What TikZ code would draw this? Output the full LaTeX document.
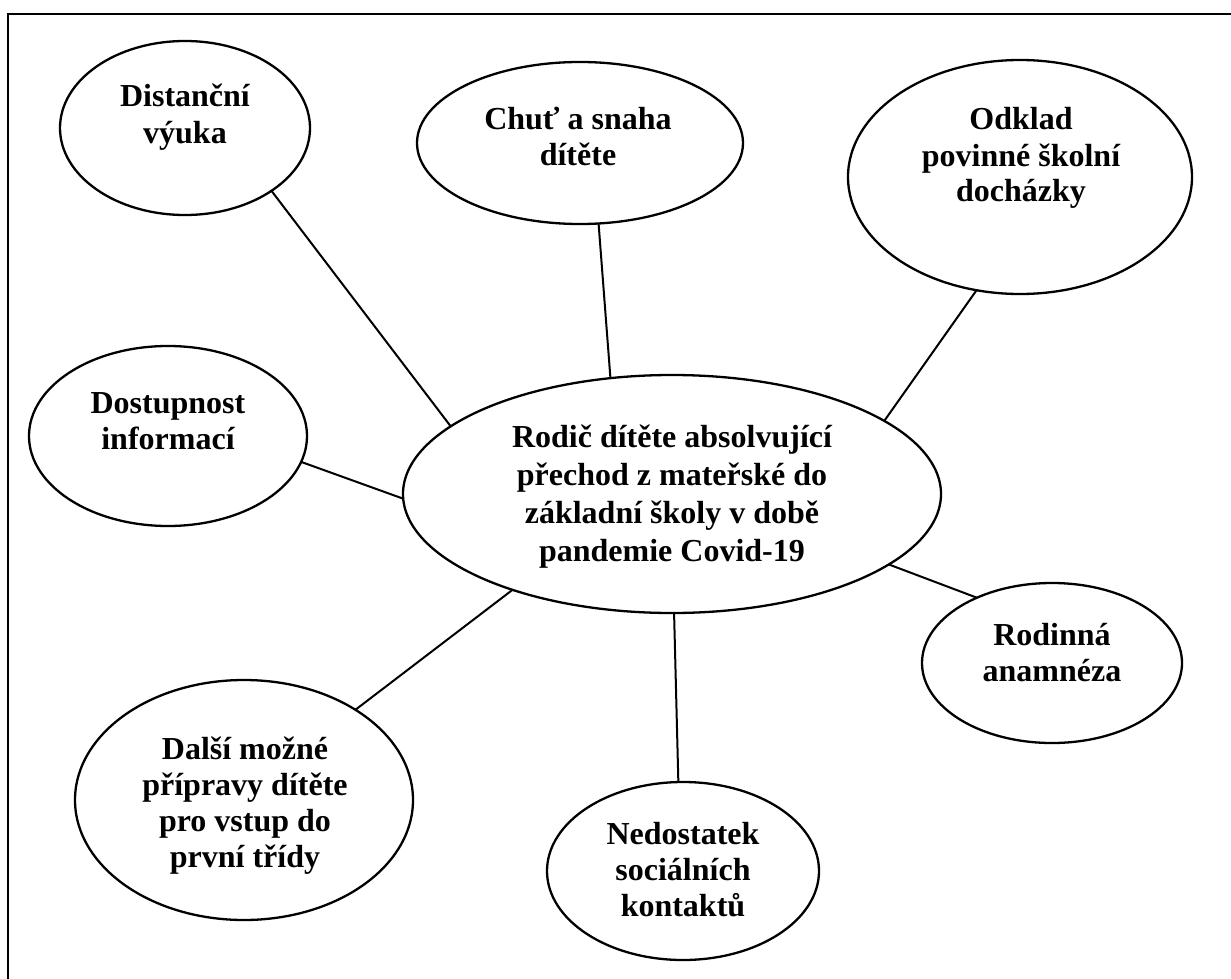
\documentclass[tikz,border=0pt]{standalone}
\usepackage{fontspec}
\setmainfont{Liberation Serif}
\usetikzlibrary{shapes.geometric}
\newcommand{\ml}[1]{\begin{tabular}[t]{@{}c@{}}#1\end{tabular}}
\begin{document}
\begin{tikzpicture}[x=1pt,y=-1pt,
  bub/.style={ellipse,draw,line width=2.3pt,inner sep=0pt,outer sep=0pt},
  lbl/.style={anchor=base,inner sep=0pt,font=\fontsize{32}{36}\selectfont\bfseries},
  link/.style={line width=2pt},
  frame/.style={line width=2.3pt}]
\useasboundingbox (0,0) rectangle (1231,979);
\clip (0,0) rectangle (1231,979);
\fill[white] (0,0) rectangle (1231,979);
\draw[frame] (8,990) -- (8,14) -- (1240,14);

\node[bub,minimum width=250pt,minimum height=174pt] (dist) at (185,128) {};
\node[bub,minimum width=326pt,minimum height=162pt] (chut) at (580,143) {};
\node[bub,minimum width=344pt,minimum height=234pt] (odk) at (1020,177) {};
\node[bub,minimum width=278pt,minimum height=180pt] (dost) at (168,436) {};
\node[bub,minimum width=538pt,minimum height=238pt] (rod) at (672,494) {};
\node[bub,minimum width=260pt,minimum height=160pt] (anam) at (1052,663) {};
\node[bub,minimum width=338pt,minimum height=240pt] (dalsi) at (244,800) {};
\node[bub,minimum width=272pt,minimum height=178pt] (ned) at (683,871) {};

\draw[link] (dist.-36.3) -- (rod.163.5);
\draw[link] (chut.-77) -- (rod.118.7);
\draw[link] (odk.-111.7) -- (rod.19.8);
\draw[link] (dost.-11) -- (rod.-179.1);
\draw[link] (anam.139.1) -- (rod.-18.4);
\draw[link] (dalsi.39.2) -- (rod.-149.9);
\draw[link] (ned.93.7) -- (rod.-89);

\node[lbl] (tdist) at (185,107) {\ml{Distanční\\výuka}};
\node[lbl] (tchut) at (578,129) {\ml{Chuť a snaha\\dítěte}};
\node[lbl] (todk) at (1021,130) {\ml{Odklad\\povinné školní\\docházky}};
\node[lbl] (tdost) at (168,413) {\ml{Dostupnost\\informací}};
\node[lbl,font=\fontsize{32}{38}\selectfont\bfseries] (trod) at (672,447) {\ml{Rodič dítěte absolvující\\přechod z mateřské do\\základní školy v době\\pandemie Covid-19}};
\node[lbl] (tanam) at (1052,645) {\ml{Rodinná\\anamnéza}};
\node[lbl] (tdalsi) at (245,759) {\ml{Další možné\\přípravy dítěte\\pro vstup do\\první třídy}};
\node[lbl] (tned) at (683,844) {\ml{Nedostatek\\sociálních\\kontaktů}};
\end{tikzpicture}
\end{document}
